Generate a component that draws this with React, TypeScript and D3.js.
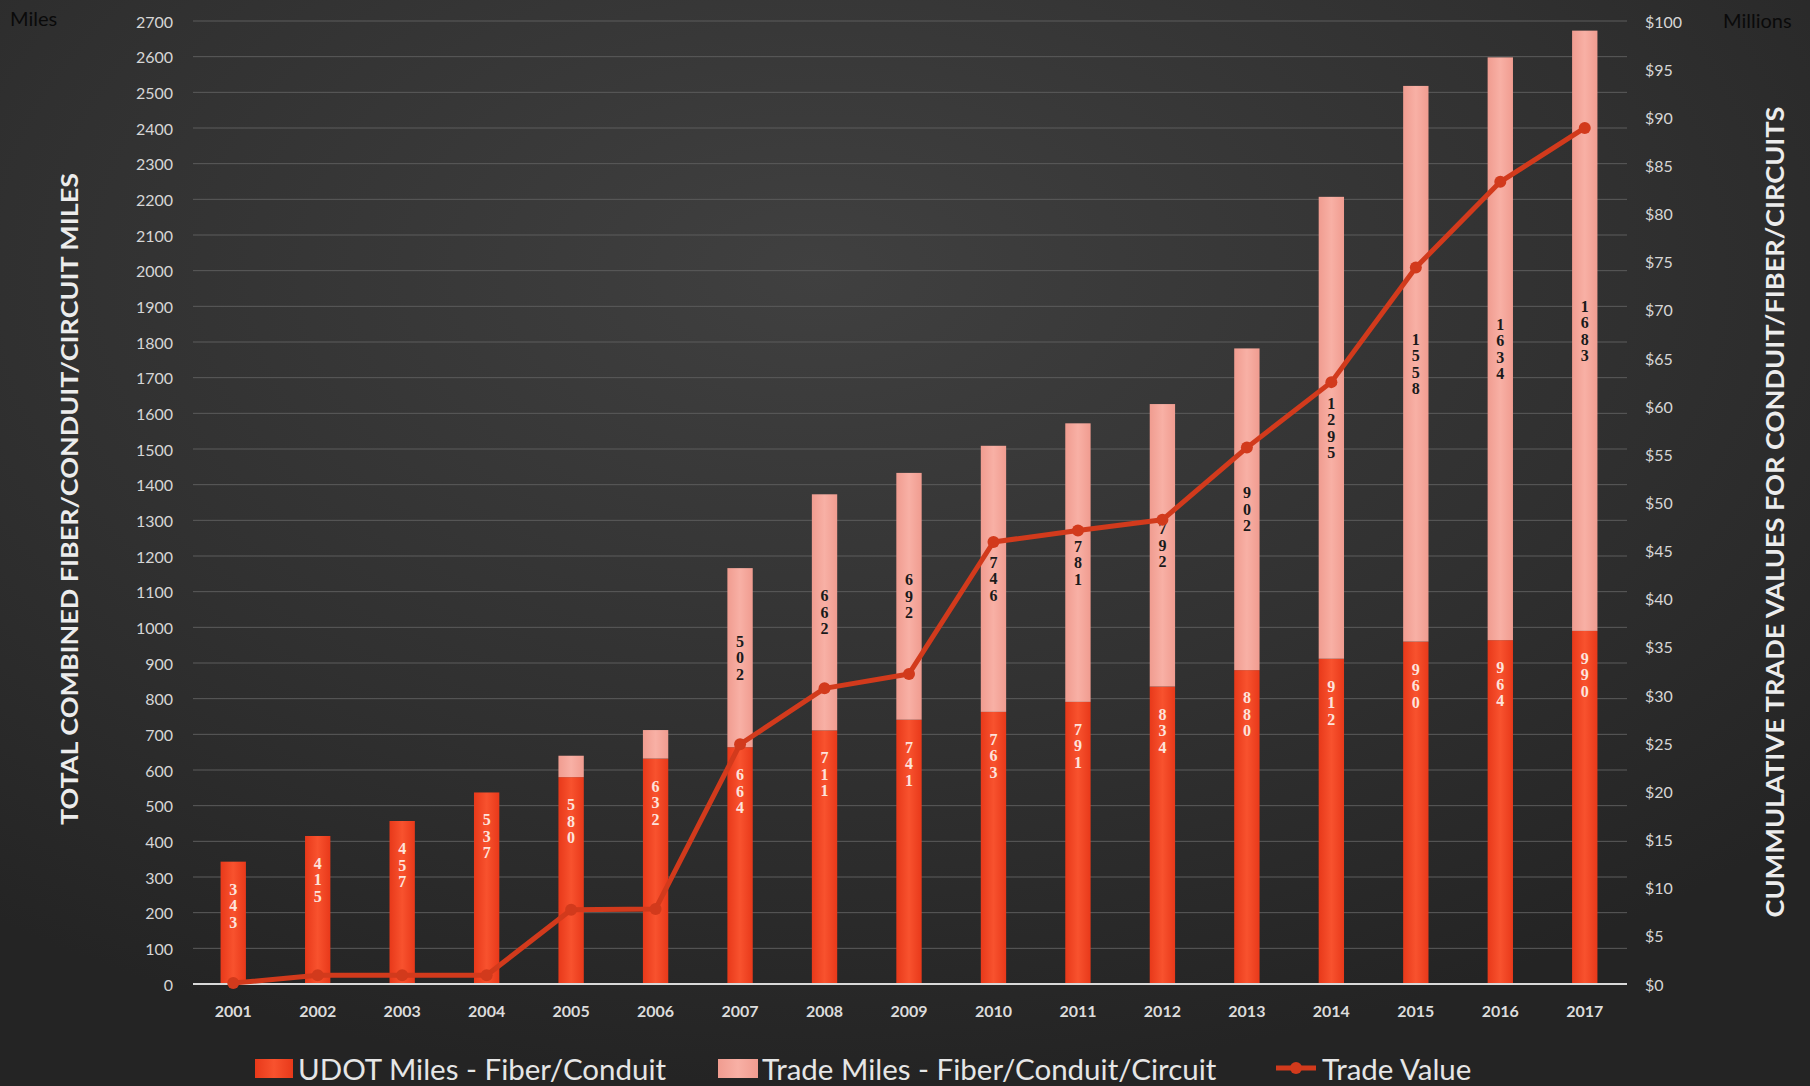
import React from 'react';
import * as d3 from 'd3';

const years = ['2001','2002','2003','2004','2005','2006','2007','2008','2009','2010','2011','2012','2013','2014','2015','2016','2017'];
const udotMiles = [343,415,457,537,580,632,664,711,741,763,791,834,880,912,960,964,990];
const tradeMiles = [0,0,0,0,60,80,502,662,692,746,781,792,902,1295,1558,1634,1683];
const tradeLabeled = [false,false,false,false,false,false,true,true,true,true,true,true,true,true,true,true,true];
const tradeValue = [0.1,0.9,0.9,0.9,7.7,7.8,24.9,30.7,32.2,45.9,47.1,48.2,55.7,62.5,74.4,83.3,88.9];
const leftTicks = d3.range(0, 2701, 100);
const rightTicks = d3.range(0, 101, 5);
const legendItems = ['UDOT Miles - Fiber/Conduit', 'Trade Miles - Fiber/Conduit/Circuit', 'Trade Value'];

const W = 1810, H = 1086;
const FONT = 'Lato, "Open Sans", sans-serif';
const SERIF = '"Liberation Serif", "DejaVu Serif", serif';

export default function App() {
  const x = d3.scaleBand<string>().domain(years).range([191, 1627]).paddingInner(0.7).paddingOuter(0.35);
  const yL = d3.scaleLinear().domain([0, 2700]).range([984, 21]);
  const yR = d3.scaleLinear().domain([0, 100]).range([984, 21]);
  const bw = x.bandwidth();
  const line = d3.line<number>()
    .x((_, i) => (x(years[i]) as number) + bw / 2)
    .y((d) => yR(d));

  const digits = (s: string, cx: number, cy: number, fill: string, key: string) => {
    const step = 16.5;
    const n = s.length;
    return (
      <text key={key} fontFamily={SERIF} fontSize={16} fontWeight={700} fill={fill} textAnchor="middle">
        {s.split('').map((c, i) => (
          <tspan key={i} x={cx} y={cy + (i - (n - 1) / 2) * step} dominantBaseline="central">{c}</tspan>
        ))}
      </text>
    );
  };

  return (
    <svg width={W} height={H} style={{ position: 'absolute', left: 0, top: 0 }} xmlns="http://www.w3.org/2000/svg">
      <defs>
        <radialGradient id="bg" cx="45%" cy="25%" r="75%">
          <stop offset="0%" stopColor="#404040" />
          <stop offset="60%" stopColor="#303030" />
          <stop offset="100%" stopColor="#242424" />
        </radialGradient>
        <linearGradient id="udot" x1="0" x2="1" y1="0" y2="0">
          <stop offset="0%" stopColor="#e8391a" />
          <stop offset="50%" stopColor="#f8522e" />
          <stop offset="100%" stopColor="#e8391a" />
        </linearGradient>
        <linearGradient id="trade" x1="0" x2="1" y1="0" y2="0">
          <stop offset="0%" stopColor="#f09c90" />
          <stop offset="50%" stopColor="#f8b0a5" />
          <stop offset="100%" stopColor="#f09c90" />
        </linearGradient>
      </defs>
      <rect x={0} y={0} width={W} height={H} fill="url(#bg)" />

      {/* gridlines */}
      {leftTicks.map((t) => t > 0 && (
        <line key={'g' + t} x1={193} x2={1627} y1={yL(t)} y2={yL(t)} stroke="#5c5c5c" strokeWidth={1} />
      ))}

      {/* left ticks */}
      {leftTicks.map((t) => (
        <text key={'l' + t} x={173} y={yL(t)} textAnchor="end" dominantBaseline="central"
          fontFamily={FONT} fontSize={16} fill="#d6d6d6">{t}</text>
      ))}
      {/* right ticks */}
      {rightTicks.map((t) => (
        <text key={'r' + t} x={1645} y={yR(t)} textAnchor="start" dominantBaseline="central"
          fontFamily={FONT} fontSize={16} fill="#d6d6d6">{'$' + t}</text>
      ))}

      {/* bars */}
      {years.map((yr, i) => {
        const bx = x(yr) as number;
        return (
          <g key={'b' + yr}>
            <rect x={bx} y={yL(udotMiles[i])} width={bw} height={yL(0) - yL(udotMiles[i])} fill="url(#udot)" />
            {tradeMiles[i] > 0 && (
              <rect x={bx} y={yL(udotMiles[i] + tradeMiles[i])} width={bw}
                height={yL(udotMiles[i]) - yL(udotMiles[i] + tradeMiles[i])} fill="url(#trade)" />
            )}
          </g>
        );
      })}

      {/* baseline */}
      <line x1={193} x2={1627} y1={yL(0)} y2={yL(0)} stroke="#d9d9d9" strokeWidth={2} />

      {/* bar labels */}
      {years.map((yr, i) => {
        const cx = (x(yr) as number) + bw / 2;
        const out = [digits(String(udotMiles[i]), cx, yL(udotMiles[i]) + 44, '#fde3dc', 'u' + yr)];
        if (tradeLabeled[i]) {
          const cy = (yL(udotMiles[i]) + yL(udotMiles[i] + tradeMiles[i])) / 2;
          out.push(digits(String(tradeMiles[i]), cx, cy, '#1a1a1a', 't' + yr));
        }
        return out;
      })}

      {/* trade value line */}
      <path d={line(tradeValue) || ''} fill="none" stroke="#d23a1c" strokeWidth={5} strokeLinejoin="round" />
      {tradeValue.map((v, i) => (
        <circle key={'c' + i} cx={(x(years[i]) as number) + bw / 2} cy={yR(v)} r={6} fill="#d23a1c" />
      ))}

      {/* year labels */}
      {years.map((yr) => (
        <text key={'y' + yr} x={(x(yr) as number) + bw / 2} y={1010} textAnchor="middle" dominantBaseline="central"
          fontFamily={FONT} fontSize={16} fontWeight={700} fill="#dcdcdc">{yr}</text>
      ))}

      {/* axis titles */}
      <text transform="translate(69,499) rotate(-90)" textAnchor="middle" dominantBaseline="central"
        fontFamily={FONT} fontSize={23} fontWeight={700} fill="#ececec" textLength={652} lengthAdjust="spacingAndGlyphs">
        TOTAL COMBINED FIBER/CONDUIT/CIRCUIT MILES
      </text>
      <text transform="translate(1774,512) rotate(-90)" textAnchor="middle" dominantBaseline="central"
        fontFamily={FONT} fontSize={25} fontWeight={700} fill="#ececec" textLength={811} lengthAdjust="spacingAndGlyphs">
        CUMMULATIVE TRADE VALUES FOR CONDUIT/FIBER/CIRCUITS
      </text>
      <text x={10} y={18} dominantBaseline="central" fontFamily={FONT} fontSize={20} fill="#0a0a0a">Miles</text>
      <text x={1723} y={20} dominantBaseline="central" fontFamily={FONT} fontSize={20} fill="#0a0a0a">Millions</text>

      {/* legend */}
      <rect x={255} y={1059} width={38} height={19} fill="url(#udot)" />
      <text x={298} y={1068} dominantBaseline="central" fontFamily={FONT} fontSize={29.5} fill="#e6e6e6">{legendItems[0]}</text>
      <rect x={718} y={1059} width={40} height={19} fill="url(#trade)" />
      <text x={762} y={1068} dominantBaseline="central" fontFamily={FONT} fontSize={29.5} fill="#e6e6e6">{legendItems[1]}</text>
      <line x1={1276} x2={1316} y1={1068} y2={1068} stroke="#d23a1c" strokeWidth={5} />
      <circle cx={1296} cy={1068} r={6} fill="#d23a1c" />
      <text x={1322} y={1068} dominantBaseline="central" fontFamily={FONT} fontSize={29.5} fill="#e6e6e6">{legendItems[2]}</text>
    </svg>
  );
}
